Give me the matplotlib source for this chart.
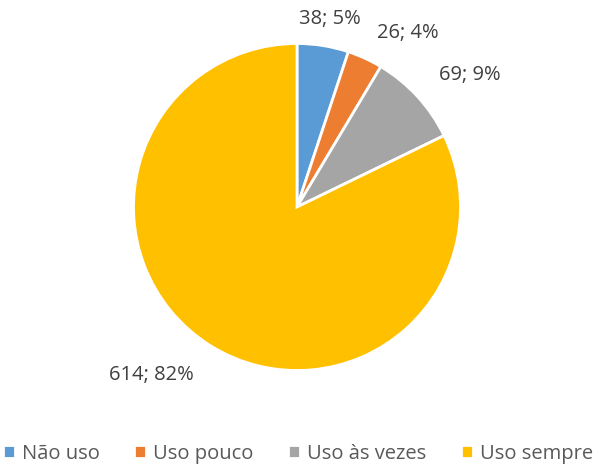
import numpy as np
import matplotlib.pyplot as plt

categories = ["Não uso", "Uso pouco", "Uso às vezes", "Uso sempre"]
counts = [38, 26, 69, 614]
percent_labels = ["5%", "4%", "9%", "82%"]
colors = ["#5B9BD5", "#ED7D31", "#A5A5A5", "#FFC000"]

# label placement tweaks (radius multiple, clockwise angle shift in degrees)
label_dist = [1.17, 1.26, 1.33, 1.36]
label_shift = [0.7, 8.0, 5.0, 9.0]

plt.rcParams["font.family"] = ["Open Sans", "DejaVu Sans"]

W, H = 596, 466
R = 163.5
cx, cy = 297, 466 - 207

fig = plt.figure(figsize=(W / 100, H / 100), dpi=100)
ax = fig.add_axes([0, 0, 1, 1])

wedges, _ = ax.pie(counts, colors=colors, startangle=90, counterclock=False,
                   radius=1, wedgeprops=dict(edgecolor="white", linewidth=2))

for w, n, p, d, s in zip(wedges, counts, percent_labels, label_dist, label_shift):
    mid = np.deg2rad((w.theta1 + w.theta2) / 2 - s)
    ax.text(d * np.cos(mid), d * np.sin(mid), f"{n}; {p}",
            ha="center", va="center", fontsize=14.5, color="#404040")

ax.set_xlim(-cx / R, (W - cx) / R)
ax.set_ylim(-cy / R, (H - cy) / R)
ax.set_aspect("equal")
ax.axis("off")

fig.legend(wedges, categories, loc="lower center", ncol=4, frameon=False,
           bbox_to_anchor=(0.5, -0.034), fontsize=14.5, labelcolor="#595959",
           handlelength=0.6, handleheight=0.6, handletextpad=0.35,
           columnspacing=1.7)

fig.savefig("out.png", dpi=100)
